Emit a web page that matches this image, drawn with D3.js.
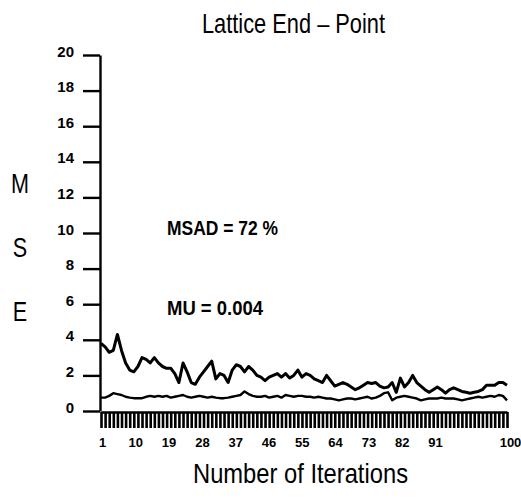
<!DOCTYPE html>
<html>
<head>
<meta charset="utf-8">
<script src="https://cdn.jsdelivr.net/npm/d3@7"></script>
<style>
  body { margin: 0; background: #fff; }
  svg { display: block; }
</style>
</head>
<body>
<svg id="chart"></svg>
<script>
const iterations = d3.range(1, 101)

const upperSeries = [
  3.8, 3.6, 3.3, 3.4, 4.3, 3.4, 2.7, 2.3, 2.2, 2.5,
  3.0, 2.9, 2.7, 3.0, 2.7, 2.5, 2.4, 2.4, 2.1, 1.6,
  2.7, 2.2, 1.6, 1.5, 1.9, 2.2, 2.5, 2.8, 1.8, 2.1,
  2.0, 1.6, 2.3, 2.6, 2.5, 2.2, 2.5, 2.3, 2.0, 1.9,
  1.7, 1.9, 2.0, 2.1, 1.9, 2.1, 1.85, 2.0, 2.3, 1.9,
  2.1, 2.0, 1.8, 1.7, 1.6, 2.0, 1.7, 1.4, 1.5, 1.6,
  1.5, 1.35, 1.2, 1.3, 1.45, 1.6, 1.55, 1.6, 1.4, 1.3,
  1.35, 1.6, 1.05, 1.85, 1.35, 1.6, 2.0, 1.6, 1.4, 1.2,
  1.05, 1.2, 1.35, 1.2, 1.0, 1.2, 1.3, 1.2, 1.1, 1.05,
  1.0, 1.05, 1.1, 1.2, 1.45, 1.45, 1.45, 1.6, 1.6, 1.45
]

const lowerSeries = [
  0.75, 0.75, 0.85, 1.0, 0.95, 0.9, 0.8, 0.75, 0.72, 0.72,
  0.72, 0.8, 0.85, 0.8, 0.85, 0.8, 0.85, 0.75, 0.8, 0.85,
  0.9, 0.8, 0.75, 0.8, 0.85, 0.8, 0.75, 0.8, 0.75, 0.72,
  0.72, 0.75, 0.8, 0.85, 0.9, 1.1, 0.95, 0.85, 0.8, 0.8,
  0.85, 0.75, 0.8, 0.85, 0.75, 0.9, 0.85, 0.8, 0.85, 0.85,
  0.8, 0.8, 0.75, 0.8, 0.75, 0.7, 0.7, 0.65, 0.6, 0.65,
  0.7, 0.7, 0.65, 0.7, 0.75, 0.8, 0.7, 0.75, 0.85, 1.0,
  1.05, 0.6, 0.75, 0.8, 0.85, 0.8, 0.75, 0.7, 0.6, 0.65,
  0.7, 0.7, 0.7, 0.75, 0.7, 0.7, 0.7, 0.65, 0.6, 0.65,
  0.7, 0.75, 0.8, 0.75, 0.8, 0.85, 0.8, 0.9, 0.85, 0.6
]

const yTicks = [0, 2, 4, 6, 8, 10, 12, 14, 16, 18, 20]
const xTickLabels = [1, 10, 19, 28, 37, 46, 55, 64, 73, 82, 91, 100]
const yLetters = ['M', 'S', 'E']
const notes = ['MSAD = 72 %', 'MU = 0.004']

const width = 521
const height = 500
const font = '"Liberation Sans", Arial, sans-serif'

//set up svg container
const svg = d3.select('#chart')
    .attr('width', width)
    .attr('height', height)
    .style('background', '#fff')

//scales
const x = d3.scaleLinear().domain([1, 100]).range([101, 507])
const y = d3.scaleLinear().domain([0, 20]).range([411, 55])
// the printed labels are not spaced like the data
const xLabel = d3.scaleLinear().domain([1, 91, 100]).range([102, 435, 510])

//y axis
const yAxis = svg.append('g')
    .attr('transform', 'translate(100,0)')
    .call(d3.axisLeft(y).tickValues(yTicks).tickSize(17).tickPadding(9).tickSizeOuter(0))
yAxis.select('.domain').attr('stroke', '#000').attr('stroke-width', 2.4)
yAxis.selectAll('.tick line').attr('stroke', '#000').attr('stroke-width', 2.4)
yAxis.selectAll('.tick text')
    .attr('dy', 1)
    .attr('dominant-baseline', 'auto')
    .style('font-family', font)
    .style('font-weight', 'bold')
    .style('font-size', '15px')
    .attr('fill', '#000')

//comb of iteration ticks below the plot
const comb = svg.append('g')
    .attr('transform', 'translate(0,412)')
    .call(d3.axisBottom(x).tickValues(iterations).tickSize(16).tickFormat('').tickSizeOuter(0))
comb.select('.domain').attr('stroke', '#000').attr('stroke-width', 2.4)
comb.selectAll('.tick line').attr('stroke', '#000').attr('stroke-width', 2.6)

//x tick labels
const xAxis = svg.append('g')
    .attr('transform', 'translate(0,437)')
    .call(d3.axisBottom(xLabel).tickValues(xTickLabels).tickSize(0).tickPadding(0))
xAxis.select('.domain').remove()
xAxis.selectAll('.tick text')
    .attr('dy', '0.75em')
    .style('font-family', font)
    .style('font-weight', 'bold')
    .style('font-size', '13px')
    .attr('fill', '#000')

//lines
const line = d3.line()
    .x((d, i) => x(iterations[i]))
    .y(d => y(d))

svg.append('path')
    .datum(upperSeries)
    .attr('d', line)
    .attr('fill', 'none')
    .attr('stroke', '#000')
    .attr('stroke-width', 3)
    .attr('stroke-linejoin', 'round')

svg.append('path')
    .datum(lowerSeries)
    .attr('d', line)
    .attr('fill', 'none')
    .attr('stroke', '#000')
    .attr('stroke-width', 2.4)
    .attr('stroke-linejoin', 'round')

//title and axis titles (squeezed to the narrow lettering of the original)
svg.append('text')
    .text('Lattice End \u2013 Point')
    .attr('x', 202)
    .attr('y', 33)
    .attr('textLength', 183)
    .attr('lengthAdjust', 'spacingAndGlyphs')
    .style('font-family', font)
    .style('font-size', '28px')

svg.append('text')
    .text('Number of Iterations')
    .attr('x', 193)
    .attr('y', 483)
    .attr('textLength', 215)
    .attr('lengthAdjust', 'spacingAndGlyphs')
    .style('font-family', font)
    .style('font-size', '28px')

svg.selectAll('.yletter')
    .data(yLetters)
    .join('text')
    .attr('class', 'yletter')
    .text(d => d)
    .attr('x', 20)
    .attr('y', (d, i) => 193 + i * 64)
    .attr('text-anchor', 'middle')
    .style('font-family', font)
    .style('font-size', '27px')
    .attr('transform', 'translate(20,0) scale(0.8,1) translate(-20,0)')

//annotations
svg.selectAll('.note')
    .data(notes)
    .join('text')
    .attr('class', 'note')
    .text(d => d)
    .attr('x', 167)
    .attr('y', (d, i) => 235 + i * 80)
    .attr('textLength', (d, i) => [111, 96][i])
    .attr('lengthAdjust', 'spacingAndGlyphs')
    .style('font-family', font)
    .style('font-weight', 'bold')
    .style('font-size', '20px')
</script>
</body>
</html>
